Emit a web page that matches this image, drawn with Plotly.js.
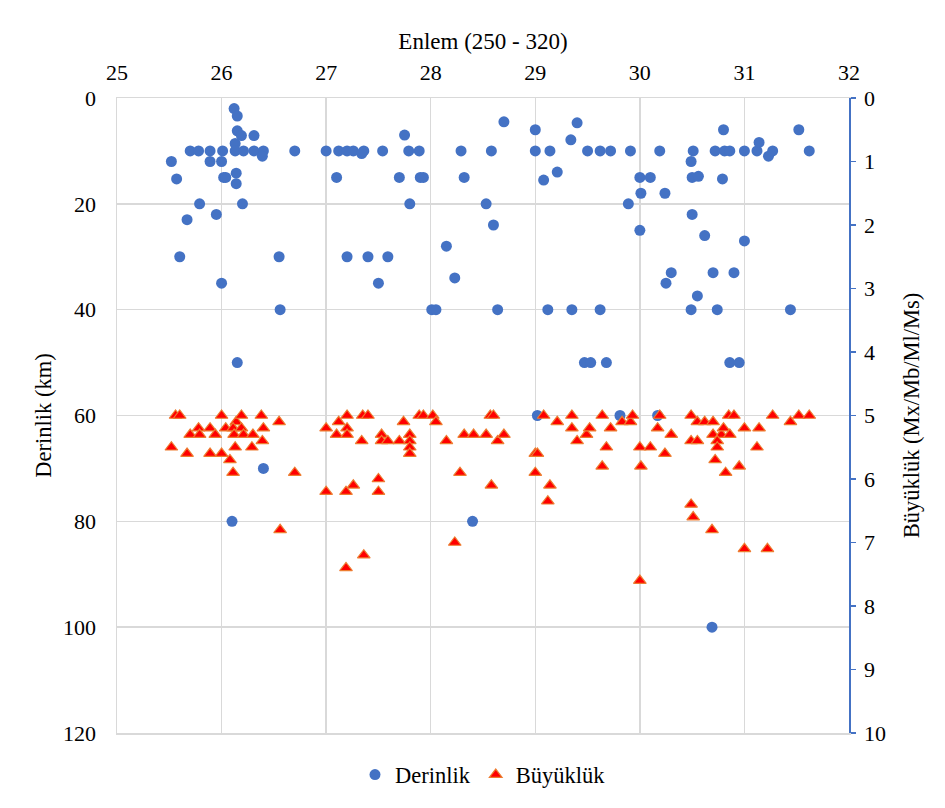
<!DOCTYPE html>
<html>
<head>
<meta charset="utf-8">
<script src="https://cdn.plot.ly/plotly-3.0.1.min.js"></script>
<style>html,body{margin:0;padding:0;background:#fff;}#chart{width:945px;height:808px;}</style>
</head>
<body>
<div id="chart"></div>
<script>
// Derinlik (depth, km) points: latitude and depth
const depthLat = [26.12,26.15,26.15,26.19,26.31,25.70,25.78,25.89,26.01,26.13,26.13,26.21,26.31,26.40,26.39,26.70,27.00,27.12,27.20,27.26,27.36,27.34,
  25.52,25.89,26.00,25.57,26.02,26.04,26.14,26.14,27.10,25.79,26.20,25.67,25.95,25.60,26.55,27.20,26.00,26.56,
  27.54,27.75,27.79,27.89,27.70,27.90,27.93,27.80,27.40,27.59,27.50,28.01,28.05,28.15,28.23,28.29,28.32,28.58,28.53,28.60,28.70,28.64,
  29.00,29.00,29.14,29.08,29.21,29.12,29.35,29.62,29.40,29.34,29.50,29.62,29.72,29.91,30.19,30.51,30.49,30.72,30.81,30.86,31.00,31.12,31.14,31.23,31.27,30.80,31.52,31.62,
  30.00,30.10,30.01,30.24,29.89,30.50,30.56,30.79,30.50,30.00,30.62,31.00,30.30,30.25,30.70,30.90,30.55,30.49,30.74,31.44,
  26.15,26.40,26.10,29.47,29.53,29.68,30.86,30.95,29.02,28.40,29.81,30.17,30.69];
const depthKm = [2,3.4,6.2,7.1,7.1,10,10,10,10,8.6,10,10,10,10,11,10,10,10,10,10,10,10.5,
  12,12,12,15.3,15,15,14.2,16.2,15,20,20,23,22,30,30,30,35,40,
  10,7,10,10,15,15,15,20,30,30,35,40,40,28,34,10,15,10,20,24,4.5,40,
  6,10,10,15.5,14,40,40,40,4.7,7.9,10,10,10,10,10,10,12,10,10,10,10,10,8.4,11,10,6,6,10,
  15,15,18,18,20,15,14.8,15.3,22,25,26,27,33,35,33,33,37.4,40,40,40,
  50,70,80,50,50,50,50,50,60,80,60,60,100];

// Büyüklük (magnitude) points: latitude and magnitude
const magLat = [25.56,25.60,25.52,25.67,25.70,25.78,25.79,25.89,25.94,25.89,26.00,26.00,26.04,26.08,26.11,26.14,26.11,26.19,26.12,26.21,26.19,26.13,26.30,26.29,26.38,26.40,26.39,26.55,26.70,26.56,
  27.00,27.00,27.12,27.20,27.20,27.10,27.20,27.26,27.19,27.19,27.35,27.40,27.34,27.53,27.53,27.59,27.70,27.74,27.80,27.80,27.80,27.80,27.89,27.93,
  28.02,28.05,28.15,28.32,28.41,28.53,28.57,28.60,28.64,28.70,28.28,28.58,28.23,27.36,27.50,27.50,
  29.00,29.02,29.00,29.14,29.12,29.08,29.21,29.35,29.35,29.40,29.49,29.52,29.64,29.72,29.68,29.64,29.83,29.91,29.93,
  30.00,30.10,30.01,30.19,30.17,30.30,30.24,30.49,30.55,30.62,30.70,30.49,30.55,30.70,30.78,30.80,30.86,30.74,30.74,30.72,30.82,30.95,30.85,30.90,
  31.00,31.14,31.12,31.27,31.44,31.52,31.62,30.49,30.51,30.69,31.00,31.22,30.00];
const magVal = [5.0,5.0,5.5,5.6,5.3,5.2,5.3,5.2,5.3,5.6,5.6,5.0,5.2,5.7,5.9,5.1,5.2,5.2,5.3,5.3,5.0,5.5,5.3,5.5,5.0,5.2,5.4,5.1,5.9,6.8,
  5.2,6.2,5.1,5.0,5.2,5.3,5.3,6.1,6.2,7.4,5.0,5.0,5.4,5.3,5.4,5.4,5.4,5.1,5.3,5.4,5.5,5.6,5.0,5.0,
  5.0,5.1,5.4,5.3,5.3,5.3,5.0,5.0,5.4,5.3,5.9,6.1,7.0,7.2,6.0,6.2,
  5.6,5.6,5.9,6.1,6.35,5.0,5.1,5.0,5.2,5.4,5.3,5.2,5.0,5.2,5.5,5.8,5.1,5.1,5.0,
  5.5,5.5,5.8,5.0,5.2,5.3,5.6,5.0,5.1,5.1,5.1,5.4,5.4,5.3,5.3,5.2,5.3,5.4,5.5,5.7,5.9,5.8,5.0,5.0,
  5.2,5.2,5.5,5.0,5.1,5.0,5.0,6.4,6.6,6.8,7.1,7.1,7.6];

const xTitle = 'Enlem (250 - 320)';
const yTitle = 'Derinlik (km)';
const y2Title = 'Büyüklük (Mx/Mb/Ml/Ms)';

const FONT = 'Liberation Serif';
const GRID = '#d9d9d9';
function tf(s) { return {family: FONT, size: s, color: '#000'}; }

const traces = [
  {x: depthLat, y: depthKm, type: 'scatter', mode: 'markers', name: 'Derinlik',
   marker: {symbol: 'circle', size: 11, color: '#4472C4'}, yaxis: 'y', cliponaxis: false},
  {x: magLat, y: magVal, type: 'scatter', mode: 'markers', name: 'Büyüklük',
   marker: {symbol: 'triangle-up', size: 11, color: '#FF0000', line: {color: '#ED7D31', width: 1.2}}, yaxis: 'y2', cliponaxis: false}
];

const layout = {
  width: 945, height: 808,
  margin: {l: 116.5, r: 96, t: 97.5, b: 73},
  paper_bgcolor: '#fff', plot_bgcolor: '#fff',
  font: tf(22),
  showlegend: true,
  legend: {orientation: 'h', x: 0.5, xanchor: 'center', y: -0.066, yanchor: 'middle',
           font: tf(22.5), itemwidth: 30, tracegroupgap: 0},
  xaxis: {side: 'top', range: [25, 32], dtick: 1, tick0: 25, showgrid: true, gridcolor: GRID, gridwidth: 1.5,
          zeroline: false, showline: true, mirror: true, linecolor: GRID, linewidth: 1.5, ticks: '',
          tickfont: tf(22), ticklabelstandoff: 8,
          title: {text: xTitle, font: tf(23), standoff: 3}},
  yaxis: {range: [120, 0], dtick: 20, tick0: 0, showgrid: true, gridcolor: GRID, gridwidth: 1.5,
          zeroline: false, showline: true, linecolor: GRID, linewidth: 1.5, ticks: '',
          tickfont: tf(22), ticklabelstandoff: 15,
          title: {text: yTitle, font: tf(22.5), standoff: 5}},
  yaxis2: {overlaying: 'y', side: 'right', range: [10, 0], dtick: 1, tick0: 0, showgrid: false,
           zeroline: false, showline: true, linecolor: '#4472C4', linewidth: 1.5,
           ticks: 'outside', ticklen: 5, tickcolor: '#4472C4', tickwidth: 1.5,
           tickfont: tf(22), ticklabelstandoff: 4,
           title: {text: y2Title, font: tf(22.5), standoff: 18}}
};

Plotly.newPlot('chart', traces, layout, {displayModeBar: false, staticPlot: true});
</script>
</body>
</html>
